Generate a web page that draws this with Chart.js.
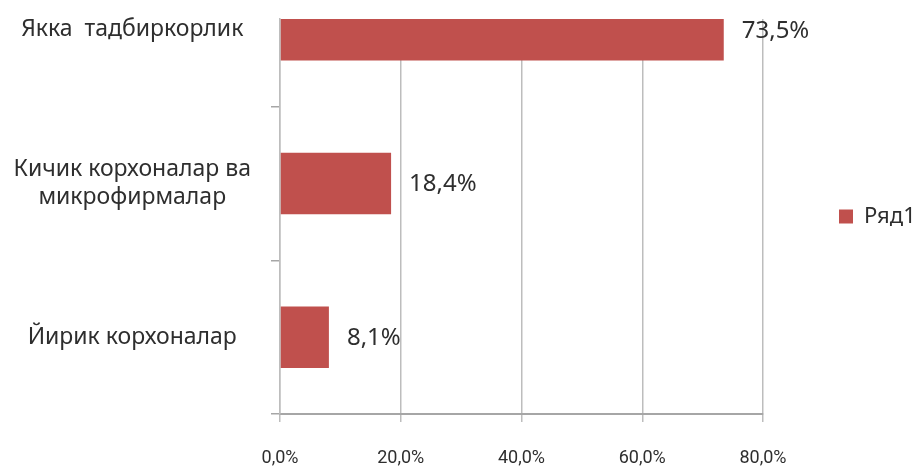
<!DOCTYPE html>
<html>
<head>
<meta charset="utf-8">
<script src="https://cdn.jsdelivr.net/npm/chart.js@4.4.1/dist/chart.umd.min.js"></script>
<style>
    html, body { margin: 0; padding: 0; background: #fff; }
    #wrap { width: 916px; height: 467px; }
</style>
</head>
<body>
<div id="wrap"><canvas id="shareChart"></canvas></div>
<script>
// data
const categories = ['Якка  тадбиркорлик', ['Кичик корхоналар ва', 'микрофирмалар'], 'Йирик корхоналар'];
const shares = [73.5, 18.4, 8.1];
const xTicks = [0, 20, 40, 60, 80];
const seriesName = 'Ряд1';

const shareChart = document.getElementById('shareChart');
const textColor = '#2e2e2e';

function pct(v) {
    return v.toFixed(1).replace('.', ',') + '%';
}

// value labels right of each bar
const barLabels = {
    id: 'barLabels',
    afterDatasetsDraw(chart) {
        const ctx = chart.ctx;
        const meta = chart.getDatasetMeta(0);
        ctx.save();
        ctx.font = '24px "Noto Sans"';
        ctx.fillStyle = textColor;
        ctx.textAlign = 'left';
        ctx.textBaseline = 'middle';
        meta.data.forEach((bar, i) => {
            ctx.fillText(pct(shares[i]), bar.x + 18, bar.y + 1);
        });
        ctx.restore();
    },
};

new Chart(shareChart, {
    type: 'bar',
    data: {
        datasets: [
            {
                label: seriesName,
                data: shares.map((v, i) => ({ x: v, y: i })),
                backgroundColor: '#C0504D',
                barPercentage: 0.4,
                categoryPercentage: 1,
                clip: 0,
            },
        ],
    },
    options: {
        indexAxis: 'y',
        responsive: true,
        maintainAspectRatio: false,
        animation: false,
        layout: {
            padding: { top: 19, right: 0, bottom: 0, left: 0 },
        },
        plugins: {
            tooltip: { enabled: false },
            legend: {
                display: true,
                position: 'right',
                fullSize: false,
                maxWidth: 153,
                labels: {
                    boxWidth: 14,
                    boxHeight: 14,
                    padding: 76,
                    color: textColor,
                    font: { family: 'Noto Sans', size: 22 },
                },
            },
        },
        scales: {
            x: {
                type: 'linear',
                min: 0,
                max: 80,
                afterBuildTicks: (axis) => {
                    axis.ticks = xTicks.map((v) => ({ value: v }));
                },
                afterFit: (scale) => {
                    scale.height = 53;
                },
                ticks: {
                    callback: (v) => pct(v),
                    color: textColor,
                    padding: 26,
                    font: { family: 'Roboto', size: 18 },
                },
                grid: { color: '#bdbdbd', lineWidth: 1.5, tickLength: 8 },
                border: { color: '#a6a6a6', width: 2 },
            },
            y: {
                type: 'linear',
                offset: false,
                reverse: true,
                min: -0.07,
                max: 2.5,
                afterBuildTicks: (axis) => {
                    axis.ticks = categories.map((c, i) => ({ value: i }));
                },
                afterFit: (scale) => {
                    scale.width = 280;
                    scale.paddingTop = 0;
                    scale.paddingBottom = 0;
                },
                ticks: {
                    callback: (v) => categories[v],
                    crossAlign: 'center',
                    padding: 20,
                    autoSkip: false,
                    color: textColor,
                    font: { family: 'Noto Sans', size: 23, lineHeight: 1.26 },
                },
                grid: { offset: true, drawOnChartArea: false, tickLength: 9, color: '#a6a6a6', lineWidth: 1.5 },
                border: { display: true, color: '#bdbdbd', width: 1.5 },
            },
        },
    },
    plugins: [barLabels],
});
</script>
</body>
</html>
